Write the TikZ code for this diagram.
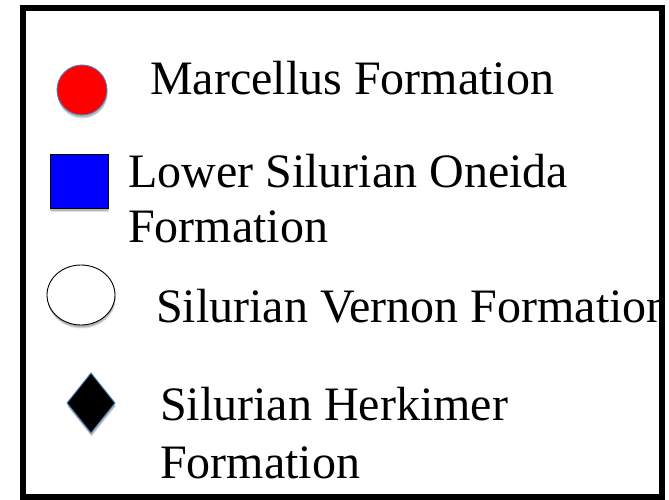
\documentclass[tikz,border=0pt]{standalone}
\usepackage{fontspec}
\setmainfont{Liberation Serif}
\usetikzlibrary{shapes.geometric,shadows}
\definecolor{edgeblue}{HTML}{4A7EBB}
\tikzset{
  softshadow/.style={
    general shadow={shadow xshift=0.6pt, shadow yshift=-3.5pt, fill=black, opacity=0.12, scale=1.04},
    general shadow={shadow xshift=0.4pt, shadow yshift=-2.5pt, fill=black, opacity=0.18}},
  symbolbox/.style={inner sep=0pt, outer sep=0pt, line width=0.9pt, softshadow},
  label/.style={anchor=base west, inner sep=0pt, font=\fontsize{48}{55}\selectfont}
}
\begin{document}
\begin{tikzpicture}[x=1pt,y=-1pt]
  \useasboundingbox (0,0) rectangle (669,500);
  \fill[white] (0,0) rectangle (669,500);

  % legend symbols
  \node[symbolbox, circle, minimum size=50pt, fill=red, draw=edgeblue] (marc) at (82,90) {};
  \node[symbolbox, rectangle, minimum width=58pt, minimum height=54pt, fill=blue, draw=black] (oneida) at (79,181) {};
  \node[symbolbox, ellipse, minimum width=68pt, minimum height=60pt, fill=white, draw=black] (vernon) at (81,295) {};
  \node[symbolbox, diamond, minimum width=48pt, minimum height=60pt, fill=black, draw=edgeblue] (herk) at (91,403) {};

  % legend labels, clipped at the frame's outer edge
  \begin{scope}
    \clip (0,0) rectangle (663,500);
    \node[label] (marcT) at (150,95) {Marcellus Formation};
    \node[label] (oneidaT) at (128,187) {Lower Silurian Oneida};
    \node[label] (oneidaT2) at (128,242) {Formation};
    \node[label] (vernonT) at (156,322) {Silurian Vernon Formation};
    \node[label] (herkT) at (160,420) {Silurian Herkimer};
    \node[label] (herkT2) at (160,478) {Formation};
  \end{scope}

  % frame
  \draw[line width=6pt] (22.5,8.5) rectangle (661.5,497);
\end{tikzpicture}
\end{document}
